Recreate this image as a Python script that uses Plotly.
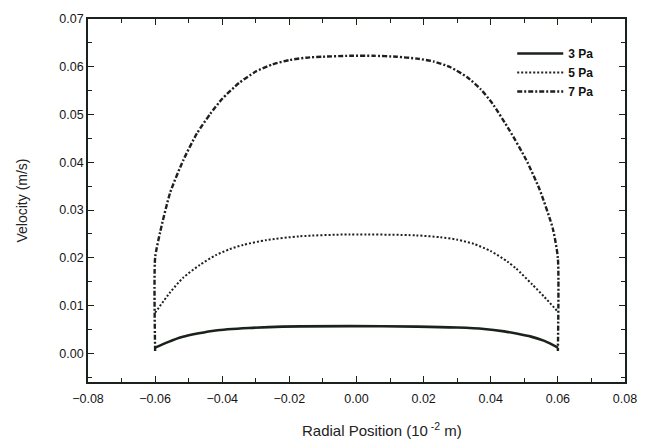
import plotly.graph_objects as go

# ---- data ----
x_3pa = [-0.06, -0.056, -0.052, -0.047, -0.042, -0.032, -0.022, -0.002, 0.018, 0.030,
         0.038, 0.044, 0.048, 0.052, 0.056, 0.06]
y_3pa = [0.0012, 0.0024, 0.0034, 0.0042, 0.0048, 0.0053, 0.0056, 0.0057, 0.0056, 0.0054,
         0.0051, 0.0046, 0.0041, 0.0035, 0.0026, 0.0012]

x_5pa = [-0.06, -0.0556, -0.0517, -0.0467, -0.0418, -0.0378, -0.0338, -0.0269, -0.017,
         -0.002, 0.0178, 0.0250, 0.030, 0.035, 0.040, 0.045, 0.0475, 0.0524, 0.056, 0.06]
y_5pa = [0.0085, 0.0127, 0.0158, 0.0185, 0.0206, 0.0218, 0.0227, 0.0237, 0.0245,
         0.0249, 0.0247, 0.0243, 0.0238, 0.0229, 0.0214, 0.0192, 0.0178, 0.0144, 0.0118, 0.0087]

x_7pa = [-0.06, -0.06, -0.0585, -0.0555, -0.0515, -0.0475, -0.0435, -0.040, -0.035,
         -0.030, -0.025, -0.020, -0.015, -0.010, -0.002, 0.005, 0.012, 0.018, 0.023,
         0.028, 0.033, 0.037, 0.0405, 0.0455, 0.0505, 0.0545, 0.0585, 0.06, 0.06]
y_7pa = [0.0005, 0.0200, 0.0254, 0.0337, 0.0406, 0.0461, 0.0502, 0.0533, 0.0566,
         0.0590, 0.0605, 0.0614, 0.0619, 0.0621, 0.0623, 0.0623, 0.0621, 0.0617, 0.0611,
         0.0599, 0.0578, 0.0553, 0.0523, 0.0468, 0.0406, 0.0344, 0.0261, 0.0199, 0.0005]

series_names = ["3 Pa", "5 Pa", "7 Pa"]
x_ticks = [-0.08, -0.06, -0.04, -0.02, 0.00, 0.02, 0.04, 0.06, 0.08]
y_ticks = [0.00, 0.01, 0.02, 0.03, 0.04, 0.05, 0.06, 0.07]

ink = "#1b211b"
font = "Liberation Sans, Arial, sans-serif"

fig = go.Figure()
fig.add_trace(go.Scatter(x=x_3pa, y=y_3pa, name=series_names[0], mode="lines",
                         line=dict(color=ink, width=2.6, shape="spline", smoothing=0.7)))
fig.add_trace(go.Scatter(x=x_5pa, y=y_5pa, name=series_names[1], mode="lines",
                         line=dict(color=ink, width=2, dash="2px,2px", shape="spline", smoothing=0.7)))
fig.add_trace(go.Scatter(x=x_7pa, y=y_7pa, name=series_names[2], mode="lines",
                         line=dict(color=ink, width=2.4, dash="5px,2px,2px,2px", shape="spline", smoothing=0.6)))

axis_common = dict(
    showline=True, linecolor=ink, linewidth=1.6, mirror="allticks",
    ticks="inside", ticklen=6, tickwidth=1.2, tickcolor=ink,
    showgrid=False, zeroline=False, tickformat=".2f",
    tickfont=dict(family=font, size=12.5, color="#151515"),
)

fig.update_xaxes(range=[-0.08, 0.08], tickvals=x_ticks, ticklabelstandoff=4,
                 minor=dict(ticks="inside", ticklen=4, tickwidth=1.2, tickcolor=ink, dtick=0.01),
                 **axis_common)
fig.update_yaxes(range=[-0.006, 0.07], tickvals=y_ticks,
                 minor=dict(ticks="inside", ticklen=4, tickwidth=1.2, tickcolor=ink, dtick=0.005),
                 title=dict(text="Velocity (m/s)", font=dict(family=font, size=14, color="#222"), standoff=28),
                 **axis_common)

fig.add_annotation(text="Radial Position (10<sup> -2</sup> m)", xref="paper", yref="paper",
                   x=0.548, y=-0.13, xanchor="center", yanchor="middle", showarrow=False,
                   font=dict(family=font, size=15, color="#222"))

fig.update_layout(
    width=649, height=441,
    margin=dict(l=88, r=23, t=14, b=59),
    paper_bgcolor="white", plot_bgcolor="white",
    legend=dict(x=0.79, y=0.945, xanchor="left", yanchor="top",
                bgcolor="rgba(0,0,0,0)", itemwidth=46,
                font=dict(family=font, size=12, color="#111", weight="bold")),
)

fig.write_html("out.html")
